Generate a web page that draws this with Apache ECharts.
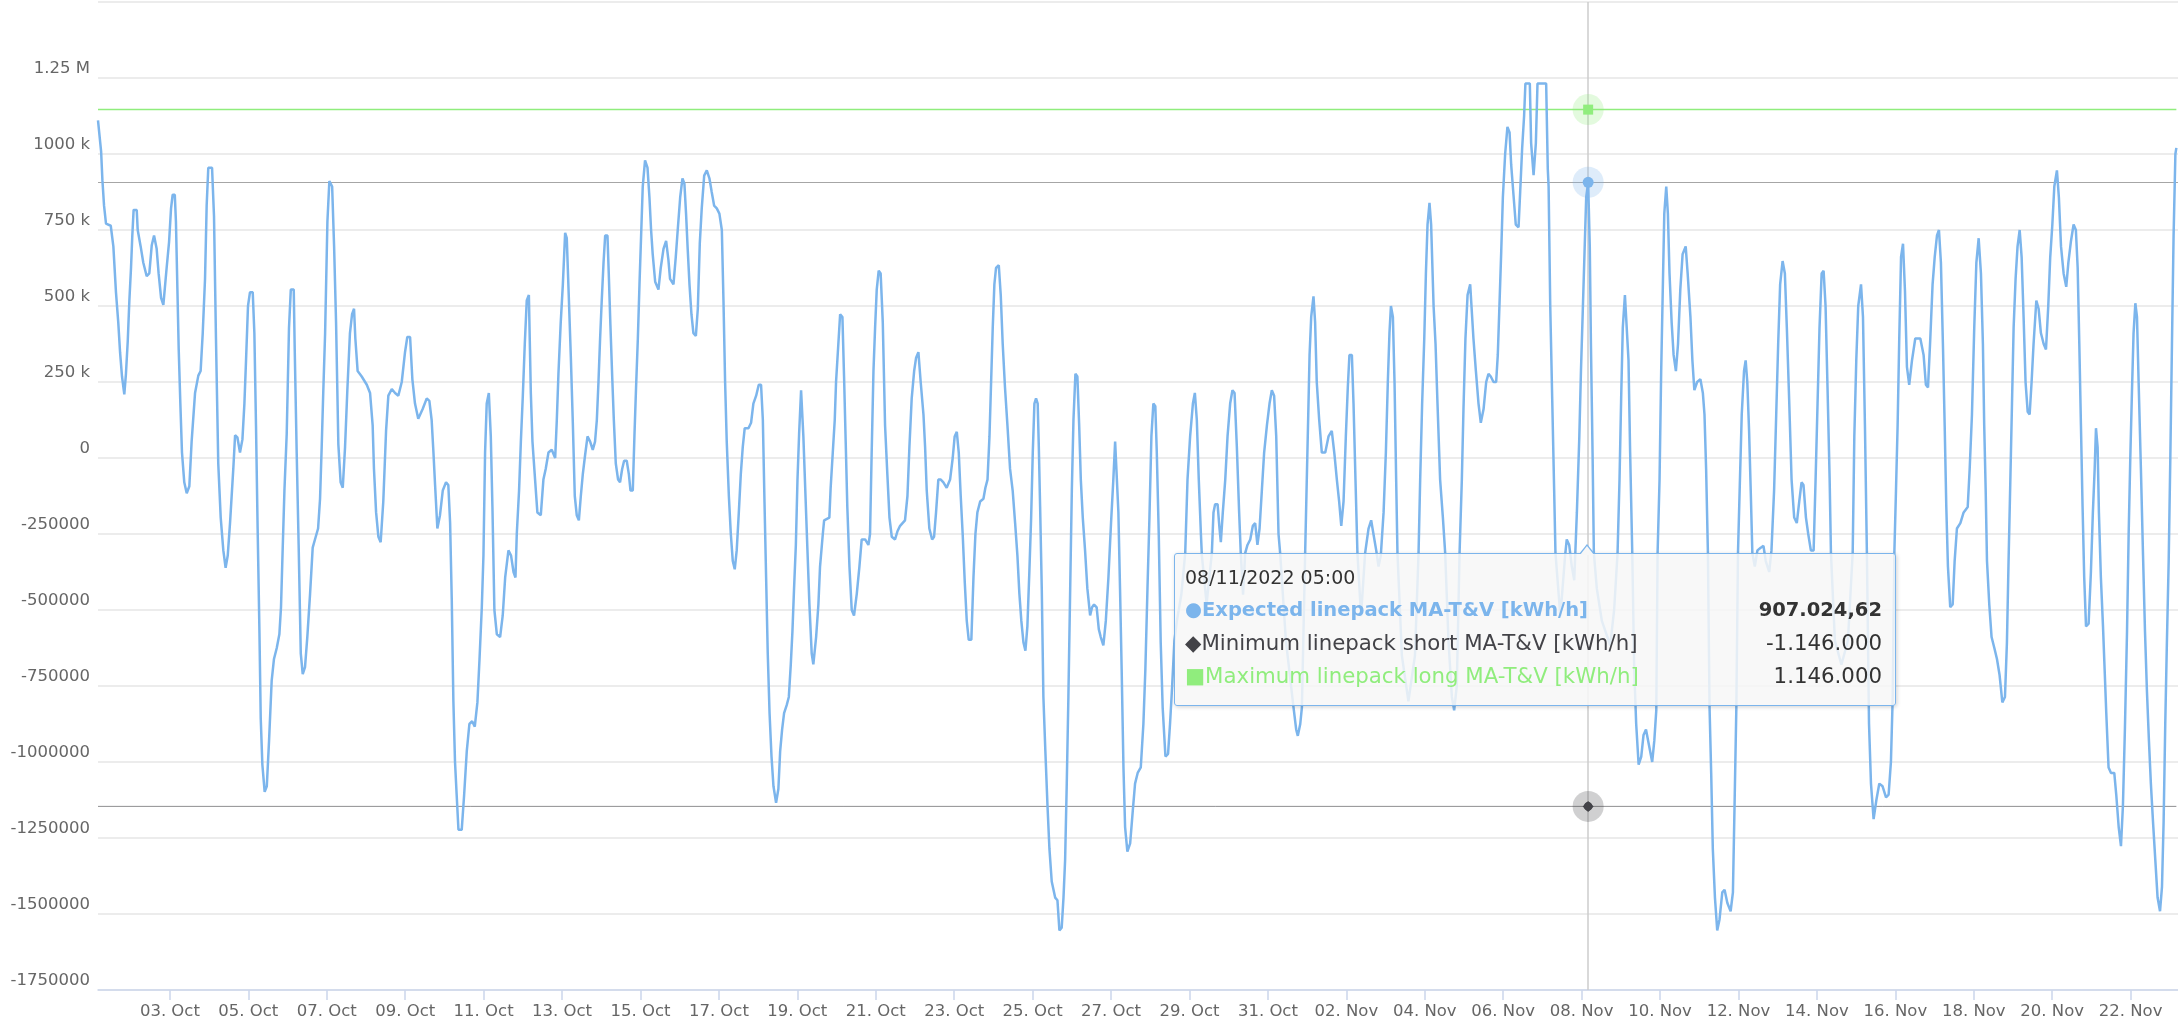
<!DOCTYPE html>
<html>
<head>
<meta charset="utf-8">
<script src="https://cdn.jsdelivr.net/npm/echarts@6/dist/echarts.min.js"></script>
<style>
html,body{margin:0;padding:0;background:#ffffff;}
#chart{width:2178px;height:1023px;}
</style>
</head>
<body>
<div id="chart"></div>
<script>
// ---------- DATA ----------
const seriesNames = [
  'Expected linepack MA-T&V [kWh/h]',
  'Minimum linepack short MA-T&V [kWh/h]',
  'Maximum linepack long MA-T&V [kWh/h]'
];
const seriesSymbols = ['\u25CF', '\u25C6', '\u25A0'];
const startUTC = Date.UTC(2022, 9, 1, 4);   // first hour of the period (UTC)
const endUTC = Date.UTC(2022, 10, 23, 5);   // end of the period (UTC)
const localOffsetHours = 1;                 // tooltip shows local time (CET)
const minLinepack = -1146000;
const maxLinepack = 1146000;
const tooltipHour = 912;                    // hovered point: hours after start

// [hours after start, expected linepack in thousand kWh/h]
const expectedPoints = [
[0,1111],[1.9,1009],[2.7,914],[3.7,830],[4.9,771],[7.8,764],[9.4,696],[11,545],[12.4,446],[13.5,348],[14.7,268],[16.1,209],[17.1,277],[18.2,384],[19.2,518],[20.2,625],[21,732],[21.8,816],[23.7,816],[24.3,750],[26.1,696],[27.7,643],[29.8,598],[31.4,607],[32.9,700],[34.3,732],[35.9,688],[37.1,607],[38.6,527],[40,504],[42,625],[43.5,711],[44.7,821],[45.7,866],[47,866],[47.7,777],[48.6,554],[49.4,357],[50.4,179],[51.4,18],[52.8,-80],[54.3,-116],[55.9,-93],[57.3,54],[59.4,214],[61.4,271],[62.8,286],[64.1,411],[65.5,589],[66.5,830],[67.5,955],[69.8,955],[71,795],[72.2,393],[73.6,-18],[75.1,-196],[76.7,-304],[78.1,-361],[79.4,-321],[80.8,-214],[82.8,-36],[83.9,75],[85.3,68],[86.9,18],[88.4,62],[89.6,179],[90.6,321],[91.8,500],[93,545],[94.7,545],[95.7,411],[96.7,107],[97.7,-232],[98.8,-571],[99.6,-857],[100.6,-1009],[102,-1098],[103.3,-1080],[104.7,-929],[106.3,-732],[107.7,-661],[109.4,-625],[111,-580],[112,-491],[113,-304],[114.1,-107],[115.5,80],[116.9,429],[118,554],[119.8,554],[120.4,357],[121.6,18],[122.8,-286],[124.1,-643],[125.3,-711],[126.7,-688],[128.1,-589],[129.8,-446],[131.4,-295],[133,-264],[134.7,-232],[135.9,-134],[136.9,36],[137.9,223],[139,411],[140.4,777],[141.6,911],[143.3,893],[144.5,696],[145.7,446],[147.1,45],[148.5,-80],[149.8,-98],[151.2,36],[152.6,223],[154.2,411],[155.5,473],[156.7,491],[157.5,393],[158.9,286],[161.4,268],[164.5,241],[166.5,214],[168.1,107],[168.9,-36],[170.2,-179],[171.6,-259],[173,-277],[174.6,-143],[176.3,89],[177.7,205],[179.8,227],[181.8,214],[183.8,205],[185.9,250],[187.9,348],[189.3,398],[191,398],[192.4,259],[194,179],[196,129],[198.7,161],[201.2,196],[202.8,188],[204.2,125],[205.3,18],[206.3,-89],[207.7,-232],[209.3,-188],[211,-107],[213,-80],[214.4,-89],
[215.5,-214],[216.5,-464],[217.5,-800],[218.5,-1000],[219.5,-1107],[220.6,-1223],[222.6,-1223],[224.1,-1107],[225.7,-964],[227.3,-875],[229,-866],[230.6,-884],[232.2,-804],[233.5,-661],[234.9,-491],[235.9,-321],[236.9,18],[237.9,179],[239.2,214],[240.4,71],[241.4,-161],[242.6,-500],[244.1,-580],[246.1,-589],[247.7,-518],[249.2,-393],[251.2,-304],[252.8,-321],[254.3,-375],[255.5,-393],[256.3,-250],[257.7,-107],[258.8,54],[260,205],[261.2,375],[262.4,518],[263.7,536],[264.9,214],[265.9,54],[267.5,-71],[268.9,-179],[271,-188],[272.6,-71],[274,-36],[275.7,18],[277.7,27],[279.8,0],[280.8,125],[281.8,277],[283.2,446],[284.5,571],[285.9,741],[286.9,723],[288.1,536],[289.4,330],[290.6,116],[291.8,-125],[293,-188],[294.3,-205],[295.5,-125],[296.7,-54],[298.1,9],[299.6,71],[301.2,54],[302.8,27],[304.2,54],[305.3,125],[306.3,250],[307.3,393],[308.3,518],[309.4,643],[310.4,732],[311.8,732],[312.6,607],[313.6,438],[314.7,268],[315.7,125],[316.9,-18],[318.3,-71],[319.5,-80],[320.8,-36],[322,-9],[323.6,-9],[324.9,-54],[325.9,-107],[327.3,-107],[328.3,71],[329.3,232],[330.4,393],[331.4,571],[332.4,732],[333.4,893],[334.8,979],[336.3,955],[337.5,857],[338.5,750],[339.5,670],[341,580],[343,554],[344.4,625],[346.1,688],[347.7,714],[349.1,652],[350.1,589],[352.2,571],[353.6,661],[354.8,750],[356.3,857],[357.7,920],[358.9,902],[359.9,804],[360.9,688],[362,571],[363.2,473],[364.4,411],[365.9,402],[367.1,491],[368.3,705],[369.5,821],[371,929],[372.6,946],[374.2,920],[375.6,875],[377.1,830],[378.7,821],[380.3,804],[381.8,750],[382.8,518],[383.8,250],[384.8,54],[386.1,-125],[387.3,-250],[388.5,-339],[389.7,-366],[390.9,-304],[392.2,-179],[393.4,-54],[394.6,36],[395.8,98],[398.1,98],[399.7,116],[401.1,179],[402.8,205],[404.4,241],[405.8,241],[406.9,125],[407.9,-143],[408.9,-393],[409.9,-643],[411,-839],[412.2,-982],[413.4,-1080],[415,-1134],[416.4,-1089],[417.5,-964],[418.7,-893],[419.9,-839],[421.5,-813],[422.8,-786],[424,-679],[425,-571],[426,-429],[427.1,-286],[428.1,-71],[429.1,80],[430.3,223],[431.7,71],[433,-125],[434.2,-304],[435.4,-482],[436.8,-643],
[437.8,-679],[439.5,-589],[440.9,-482],[441.9,-357],[443.6,-250],[444.4,-205],[447.6,-196],[448.4,-98],[449.7,18],[450.9,125],[451.7,250],[453.1,375],[454.2,473],[455.6,464],[456.6,268],[457.6,54],[458.6,-161],[459.9,-357],[461.3,-500],[462.7,-518],[464.4,-446],[466,-357],[467.4,-268],[469.5,-268],[471.5,-286],[472.5,-250],[473.5,18],[474.6,286],[475.6,429],[476.6,554],[477.8,616],[479,607],[480.3,446],[481.7,107],[483.1,-54],[484.4,-196],[485.8,-259],[487.8,-268],[489.3,-241],[490.9,-223],[493.9,-205],[495.4,-125],[496.6,36],[498,196],[499.5,286],[500.7,330],[502.1,348],[503.5,250],[505.2,143],[506.2,36],[507.2,-107],[508.8,-232],[510.5,-268],[511.7,-259],[512.9,-179],[514.3,-71],[515.8,-71],[517.4,-80],[519.4,-98],[521.5,-71],[523.1,0],[524.3,71],[525.6,86],[526.8,18],[528,-125],[529.2,-250],[530.5,-411],[531.7,-536],[532.9,-598],[534.5,-598],[535.8,-393],[537,-250],[538.2,-179],[539.9,-143],[541.9,-134],[543.1,-98],[544.4,-71],[545.6,71],[546.6,250],[547.6,429],[548.6,571],[549.6,625],[551.3,634],[552.5,536],[553.7,375],[555.1,232],[556.6,107],[558.2,-36],[559.8,-107],[561.3,-214],[562.7,-321],[563.9,-446],[565.1,-536],[566.4,-607],[567.6,-634],[568.8,-554],[570,-375],[571.1,-196],[572.1,18],[573.1,179],[574.1,196],[575.1,179],[575.8,36],[576.6,-161],[577.6,-429],[578.6,-786],[579.8,-964],[581.1,-1143],[582.3,-1286],[583.7,-1393],[585.8,-1446],[587.2,-1455],[588.4,-1554],[589.8,-1545],[590.9,-1446],[591.9,-1321],[592.9,-1071],[593.9,-786],[595,-429],[596,-107],[597,125],[598.2,277],[599.4,268],[600.5,107],[601.5,-71],[602.7,-196],[604.1,-304],[605.5,-429],[607.2,-518],[608.4,-491],[609.6,-482],[611.2,-491],[612.5,-563],[613.7,-589],[615.3,-616],[616.8,-536],[618.4,-393],[620,-214],[621.4,-71],[622.5,54],[623.5,54],[624.5,-179],[625.5,-429],[626.5,-696],[627.6,-1018],[628.6,-1214],[630,-1295],[631.7,-1268],[633.3,-1161],[634.7,-1071],[636.3,-1036],[638.2,-1018],[639.8,-875],[641,-696],[642.3,-429],[643.5,-196],[644.7,71],[645.9,179],[647.1,170],[648,18],[649.2,-250],[650.4,-607],[651.6,-821],[653.3,-982],[654.9,-973],[656.1,-875],[657.4,-750],[658.8,-600],
[660.3,-536],[663,-450],[665.4,-313],[666.8,-71],[668.4,71],[670.1,179],[671.3,214],[672.5,125],[673.7,-71],[675,-250],[675.6,-321],[678.5,-480],[681.7,-313],[682.7,-179],[683.7,-152],[685.2,-152],[686.4,-232],[687.2,-277],[688.4,-179],[689.9,-71],[691.3,71],[692.9,179],[694.3,223],[695.6,214],[697,36],[698.4,-179],[699.4,-313],[700.8,-450],[702.1,-313],[703.5,-286],[705.2,-268],[706.8,-223],[708.2,-214],[709.6,-286],[710.9,-232],[712.3,-107],[713.7,18],[715.4,107],[717,179],[718.4,223],[719.8,205],[721.1,71],[722.5,-250],[723.5,-313],[727,-600],[731.7,-821],[733.3,-893],[734.3,-914],[735.8,-875],[736.8,-821],[738.8,-313],[739.8,-71],[740.7,143],[741.5,339],[742.5,464],[743.9,532],[744.9,446],[745.9,250],[747.4,125],[749,18],[751.1,18],[753.1,71],[755.1,89],[756.8,9],[758.2,-71],[759.6,-143],[760.9,-223],[762.3,-143],[763.7,71],[764.9,232],[765.9,339],[767.4,339],[768.4,179],[769.6,-71],[770.8,-313],[773,-520],[775.5,-313],[777.6,-232],[779.2,-205],[780.6,-250],[782.3,-304],[783.7,-357],[785.1,-321],[786.8,-179],[788.2,18],[789.4,250],[790.4,411],[791.3,500],[792.5,464],[793.5,250],[794.5,-71],[795.3,-313],[798,-650],[802,-800],[806,-650],[808.2,-313],[809.2,-71],[810.4,179],[811.7,393],[812.7,607],[813.7,768],[814.9,839],[815.9,768],[817.4,500],[818.6,375],[819.8,179],[821.4,-71],[823.1,-196],[824.5,-313],[826.5,-600],[828.6,-786],[830,-830],[831.6,-750],[833.3,-313],[834.7,-71],[835.7,161],[836.9,393],[838.2,536],[839.8,571],[840.8,482],[841.8,393],[843.3,286],[844.9,179],[846.3,116],[848,161],[849.6,250],[851,277],[852.4,268],[854.1,250],[855.7,250],[856.7,339],[857.7,500],[858.8,679],[859.8,857],[861.2,1000],[862.6,1089],[863.9,1071],[864.9,964],[866.3,866],[867.7,768],[869.4,759],[870.4,875],[871.6,1018],[872.8,1125],[873.6,1232],[876.3,1232],[877.1,1036],[878.6,930],[880,1036],[881,1232],[886.3,1232],[887.3,950],[887.8,893],[888.8,500],[890,196],[891.2,-107],[892,-313],[895,-520],[897.9,-321],[898.9,-268],[900.4,-286],[902,-357],[903.5,-402],[905.1,-179],[906.6,71],[907.6,286],[908.8,500],[909.8,679],[910.8,857],[912,907.02462],[913,696],[913.7,375],[914.7,18],[915.5,-313],[917.3,-429],[920.4,-536],[925.5,-616],[927.9,-500],[930,-313],[931.2,-71],[932.2,196],[933.2,429],[934.5,536],[935.7,536],[936.7,321],[937.7,18],[939,-313],[940.2,-696],[941.4,-875],[942.9,-1009],[944.5,-982],[945.9,-911],[947.4,-893],[949,-938],[951.2,-1000],[952.5,-929],[953.7,-830],[954.5,-313],[955.7,-71],[956.7,286],[957.8,589],[958.6,804],[959.8,893],[960.8,804],[961.8,607],[963.1,446],[964.3,339],[965.7,286],[967,375],[968.4,554],[969.8,670],[971.7,696],[972.9,607],[974.6,464],[975.8,321],[977,223],[978.7,250],[980.7,259],[982.2,214],[983.2,143],[984.2,-36],[985.3,-313],[986.3,-821],[987.3,-1036],[988.3,-1286],[989.6,-1446],[991,-1554],[992.4,-1518],[994.1,-1429],[995.5,-1420],[997.2,-1464],[999.2,-1491],[1000.6,-1429],[1001.6,-1143],[1002.7,-821],[1003.7,-313],[1004.9,-71],[1006,143],[1007.4,286],[1008.4,321],[1009.4,250],[1010.5,89],[1011.5,-107],[1012.5,-313],[1014,-357],[1015.6,-304],[1017.6,-295],[1019.3,-289],[1020.7,-339],[1022.8,-375],[1024.2,-304],[1025.8,-107],[1027.1,143],[1028.3,375],[1029.5,571],[1031,648],[1032.4,607],[1033.6,429],[1035,196],[1036.5,-71],[1038.1,-196],[1039.7,-214],[1041.2,-143],[1042.6,-80],[1043.8,-89],[1045.3,-196],[1046.7,-250],[1048.3,-304],[1050,-304],[1051.2,-71],[1052.4,179],[1053.6,429],[1054.9,607],[1056.1,616],[1057.3,500],[1058.5,232],[1059.8,-71],[1060.6,-313],[1063,-600],[1067,-680],[1071,-600],[1073.9,-313],[1074.9,71],[1076.1,321],[1077.3,500],[1079,571],[1080.2,464],[1081.4,107],[1082.6,-313],[1083.9,-875],[1085.1,-1071],[1086.7,-1188],[1088.4,-1125],[1090.2,-1071],[1092.2,-1080],[1094.3,-1116],[1095.9,-1107],[1097.3,-1000],[1098.4,-786],[1099.4,-313],[1100.4,-107],[1101.4,107],[1102.4,393],[1103.5,661],[1104.7,705],[1105.9,550],[1107.1,300],[1108.5,241],[1110.2,321],[1112.2,393],[1115.3,393],[1117.3,339],[1118.7,241],[1120,232],[1121.4,393],[1122.8,571],[1124.1,661],[1125.5,732],[1126.7,750],[1127.9,643],[1129.2,357],[1130.2,107],[1131.2,-161],[1132.2,-357],[1133.6,-491],[1135.1,-482],[1136.3,-339],[1137.7,-232],[1139.8,-214],[1141.8,-179],[1144.3,-161],[1145.5,-36],[1146.9,143],[1148.3,429],[1149.6,643],[1151,723],[1152.4,607],[1153.6,375],[1154.4,107],[1155.3,-107],[1156.1,-339],[1157.5,-482],[1158.9,-589],[1160.6,-625],[1162.2,-661],[1163.8,-714],[1165.5,-804],[1167.1,-786],[1168.3,-607],[1169.3,-339],[1170.4,-71],[1171.4,179],[1172.4,429],[1173.6,589],[1174.8,696],[1176.1,750],[1177.3,661],[1178.5,464],[1179.7,250],[1181,152],[1182.2,143],[1183.4,250],[1184.6,375],[1186.3,518],[1187.7,491],[1189.1,411],[1190.8,375],[1192.2,357],[1193.6,500],[1194.8,661],[1196.1,768],[1197.3,893],[1198.9,946],[1200.1,857],[1201.4,696],[1203,607],[1204.6,563],[1205.9,643],[1207.5,714],[1209.1,768],[1210.5,750],[1211.6,625],[1212.6,375],[1213.6,107],[1214.6,-161],[1215.6,-393],[1216.7,-554],[1218.3,-545],[1219.7,-375],[1220.9,-179],[1222,-36],[1222.8,98],[1223.8,36],[1224.6,-179],[1225.8,-393],[1227.1,-554],[1228.1,-696],[1229.1,-839],[1230.5,-1018],[1232,-1036],[1234,-1036],[1235.2,-1107],[1236.7,-1214],[1238.1,-1277],[1239.3,-1143],[1240.5,-893],[1241.8,-571],[1242.8,-250],[1243.8,0],[1244.8,214],[1245.8,411],[1246.9,509],[1247.9,464],[1248.9,250],[1250.3,-36],[1251.6,-321],[1252.8,-571],[1254,-768],[1255.2,-929],[1256.4,-1071],[1257.7,-1196],[1259.1,-1321],[1260.5,-1446],[1262,-1491],[1263.2,-1411],[1264.2,-1196],[1265.2,-875],[1266.2,-607],[1267.3,-339],[1268.3,0],[1269.3,375],[1270.3,732],[1271.4,1000],[1272,1020]
];

const xTickDates = ['2022-10-03','2022-10-05','2022-10-07','2022-10-09','2022-10-11','2022-10-13','2022-10-15','2022-10-17','2022-10-19','2022-10-21','2022-10-23','2022-10-25','2022-10-27','2022-10-29','2022-10-31','2022-11-02','2022-11-04','2022-11-06','2022-11-08','2022-11-10','2022-11-12','2022-11-14','2022-11-16','2022-11-18','2022-11-20','2022-11-22'];
const xTickLabels = ['03. Oct','05. Oct','07. Oct','09. Oct','11. Oct','13. Oct','15. Oct','17. Oct','19. Oct','21. Oct','23. Oct','25. Oct','27. Oct','29. Oct','31. Oct','02. Nov','04. Nov','06. Nov','08. Nov','10. Nov','12. Nov','14. Nov','16. Nov','18. Nov','20. Nov','22. Nov'];
const yMin = -1750000, yMax = 1500000, yStep = 250000;

// ---------- BUILD ----------
const HOUR = 3600000;
const mainData = expectedPoints.map(p => [startUTC + p[0] * HOUR, p[1] * 1000]);
const tipTime = startUTC + tooltipHour * HOUR;
const tipIndex = expectedPoints.findIndex(p => p[0] === tooltipHour);
const tipValue = mainData[tipIndex][1];
const minData = [[startUTC, minLinepack], [tipTime, minLinepack], [endUTC - HOUR, minLinepack]];
const maxData = [[startUTC, maxLinepack], [tipTime, maxLinepack], [endUTC - HOUR, maxLinepack]];
const tickTimes = xTickDates.map(d => Date.parse(d + 'T00:00:00Z'));

const FONT = "'DejaVu Sans', Verdana, sans-serif";
function pad2(n){ return (n < 10 ? '0' : '') + n; }
function fmtDate(t){
  const d = new Date(t + localOffsetHours * HOUR);
  return pad2(d.getUTCDate()) + '/' + pad2(d.getUTCMonth() + 1) + '/' + d.getUTCFullYear() + ' ' + pad2(d.getUTCHours()) + ':' + pad2(d.getUTCMinutes());
}
function fmtNum(v){
  const neg = v < 0; v = Math.abs(v);
  const isInt = Math.abs(v - Math.round(v)) < 1e-6;
  const s = isInt ? String(Math.round(v)) : v.toFixed(2);
  const parts = s.split('.');
  const ip = parts[0].replace(/\B(?=(\d{3})+(?!\d))/g, '.');
  return (neg ? '-' : '') + ip + (parts[1] ? ',' + parts[1] : '');
}
function fmtY(v){
  if (v > 1000000) return (v / 1000000) + ' M';
  if (v > 0) return (v / 1000) + ' k';
  return String(v);
}
function esc(s){ return String(s).replace(/&/g,'&amp;').replace(/</g,'&lt;').replace(/>/g,'&gt;'); }

const chart = echarts.init(document.getElementById('chart'), null, {renderer: 'canvas'});

const option = {
  animation: false,
  backgroundColor: '#ffffff',
  grid: {left: 98, right: 0, top: 2, bottom: 33, containLabel: false, outerBoundsMode: 'none'},
  xAxis: {
    type: 'value',
    min: startUTC,
    max: endUTC,
    scale: true,
    axisLine: {show: true, onZero: false, lineStyle: {color: '#ccd6eb', width: 1.5}},
    axisTick: {show: true, length: 10, customValues: tickTimes, lineStyle: {color: '#ccd6eb', width: 1.5}},
    axisLabel: {
      customValues: tickTimes,
      formatter: function (v) {
        let best = 0;
        for (let i = 1; i < tickTimes.length; i++) {
          if (Math.abs(tickTimes[i] - v) < Math.abs(tickTimes[best] - v)) best = i;
        }
        return xTickLabels[best];
      },
      color: '#666666', fontFamily: FONT, fontSize: 16.5, margin: 13, lineHeight: 18, hideOverlap: false
    },
    splitLine: {show: false}
  },
  yAxis: {
    type: 'value',
    min: yMin, max: yMax, interval: yStep,
    axisLine: {show: false},
    axisTick: {show: false},
    axisLabel: {
      showMaxLabel: false,
      formatter: fmtY,
      color: '#666666', fontFamily: FONT, fontSize: 16.5, margin: 8,
      verticalAlign: 'bottom', lineHeight: 18
    },
    splitLine: {show: true, lineStyle: {color: '#e6e6e6', width: 1.5}}
  },
  tooltip: {
    show: true,
    trigger: 'axis',
    triggerOn: 'none',
    alwaysShowContent: true,
    showDelay: 0, hideDelay: 0, transitionDuration: 0,
    axisPointer: {type: 'none', triggerEmphasis: false},
    position: [1174, 553],
    padding: 0,
    borderWidth: 1,
    borderColor: '#7cb5ec',
    borderRadius: 3,
    backgroundColor: 'rgba(247,247,247,0.85)',
    shadowBlur: 4, shadowColor: 'rgba(0,0,0,0.18)', shadowOffsetX: 1, shadowOffsetY: 1,
    extraCssText: 'overflow:visible;',
    formatter: function (params) {
      const ps = Array.isArray(params) ? params : [params];
      const t = ps[0].value[0];
      let html = '<div style="position:relative;width:720px;height:151px;box-sizing:border-box;padding:7px 13px 0 10px;font-family:DejaVu Sans,Verdana,sans-serif;color:#333333;white-space:nowrap;">';
      html += '<div style="position:absolute;left:404px;top:-10px;width:0;height:0;border-left:8px solid transparent;border-right:8px solid transparent;border-bottom:10px solid #7cb5ec;"></div>';
      html += '<div style="position:absolute;left:405px;top:-8px;width:0;height:0;border-left:7px solid transparent;border-right:7px solid transparent;border-bottom:9px solid #f7f7f7;"></div>';
      html += '<div style="height:32px;line-height:32px;font-size:19px;color:#333333;">' + fmtDate(t) + '</div>';
      ps.forEach(function (p) {
        const bold = p.seriesIndex === 0;
        const fs = bold ? 'font-size:19.5px;font-weight:bold;' : 'font-size:21.3px;font-weight:normal;';
        html += '<div style="display:flex;justify-content:space-between;height:33px;line-height:33px;">' +
          '<span style="color:' + p.color + ';' + fs + '">' + seriesSymbols[p.seriesIndex] + esc(p.seriesName) + '</span>' +
          '<span style="color:#333333;' + fs + '">' + fmtNum(p.value[1]) + '</span></div>';
      });
      html += '</div>';
      return html;
    }
  },
  series: [
    {
      name: seriesNames[0],
      type: 'line',
      data: mainData,
      color: '#7cb5ec',
      showSymbol: false,
      symbol: 'circle',
      lineStyle: {color: '#7cb5ec', width: 2.5},
      emphasis: {disabled: true},
      z: 3,
      markLine: {
        silent: true, animation: false, z: 1,
        symbol: ['none', 'none'],
        label: {show: false},
        data: [
          {xAxis: tipTime, lineStyle: {color: '#cccccc', width: 1.5, type: 'solid'}},
          {yAxis: tipValue, lineStyle: {color: '#a6a6a6', width: 1, type: 'solid'}}
        ]
      },
      markPoint: {
        silent: true, animation: false, label: {show: false},
        data: [
          {coord: [tipTime, tipValue], symbol: 'circle', symbolSize: 31, itemStyle: {color: 'rgba(124,181,236,0.25)'}},
          {coord: [tipTime, tipValue], symbol: 'circle', symbolSize: 11, itemStyle: {color: '#7cb5ec'}}
        ]
      }
    },
    {
      name: seriesNames[1],
      type: 'line',
      data: minData,
      color: '#434348',
      showSymbol: false,
      lineStyle: {color: '#434348', width: 1, opacity: 0.6},
      emphasis: {disabled: true},
      z: 2,
      markPoint: {
        silent: true, animation: false, label: {show: false},
        data: [
          {coord: [tipTime, minLinepack], symbol: 'circle', symbolSize: 31, itemStyle: {color: 'rgba(67,67,72,0.25)'}},
          {coord: [tipTime, minLinepack], symbol: 'diamond', symbolSize: [11, 11], itemStyle: {color: '#434348'}}
        ]
      }
    },
    {
      name: seriesNames[2],
      type: 'line',
      data: maxData,
      color: '#90ed7d',
      showSymbol: false,
      lineStyle: {color: '#90ed7d', width: 1.5},
      emphasis: {disabled: true},
      z: 2,
      markPoint: {
        silent: true, animation: false, label: {show: false},
        data: [
          {coord: [tipTime, maxLinepack], symbol: 'circle', symbolSize: 31, itemStyle: {color: 'rgba(144,237,125,0.25)'}},
          {coord: [tipTime, maxLinepack], symbol: 'rect', symbolSize: 10, itemStyle: {color: '#90ed7d'}}
        ]
      }
    }
  ]
};

chart.setOption(option);
chart.dispatchAction({type: 'showTip', seriesIndex: 0, dataIndex: tipIndex});
</script>
</body>
</html>
